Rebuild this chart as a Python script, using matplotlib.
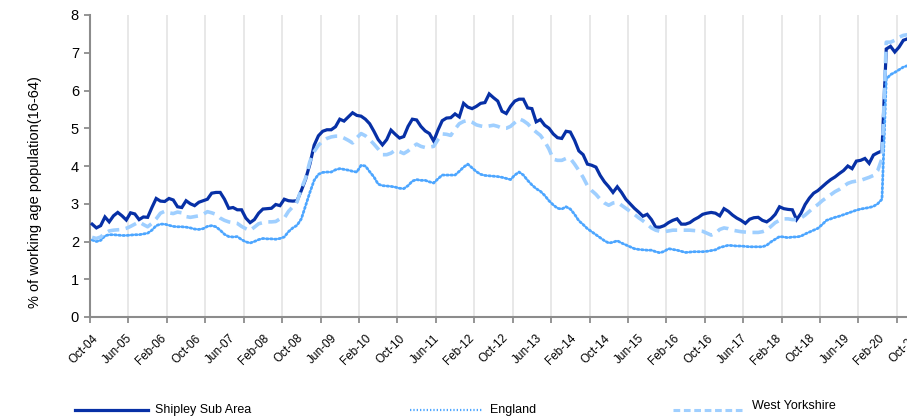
import matplotlib
matplotlib.use("Agg")
import matplotlib.pyplot as plt
from matplotlib.lines import Line2D
import numpy as np

plt.rcParams['font.family'] = ['Liberation Sans', 'DejaVu Sans']

# Monthly values, Oct-04 .. Oct-20 (193 months)
shipley = [
    2.46, 2.36, 2.42, 2.65, 2.52, 2.68, 2.77, 2.68, 2.57, 2.76,
    2.73, 2.58, 2.65, 2.64, 2.90, 3.14, 3.07, 3.06, 3.14, 3.10,
    2.92, 2.90, 3.08, 3.00, 2.95, 3.04, 3.08, 3.12, 3.28, 3.30,
    3.30, 3.12, 2.88, 2.90, 2.84, 2.84, 2.62, 2.50, 2.58, 2.75,
    2.86, 2.87, 2.88, 2.98, 2.95, 3.12, 3.08, 3.07, 3.08, 3.35,
    3.65, 4.05, 4.55, 4.80, 4.92, 4.96, 4.96, 5.04, 5.24, 5.19,
    5.30, 5.41, 5.34, 5.32, 5.24, 5.12, 4.92, 4.70, 4.56, 4.70,
    4.95, 4.84, 4.74, 4.78, 5.05, 5.24, 5.22, 5.05, 4.93, 4.86,
    4.66, 4.95, 5.20, 5.27, 5.28, 5.38, 5.30, 5.66, 5.56, 5.52,
    5.58, 5.66, 5.68, 5.91, 5.81, 5.72, 5.45, 5.39, 5.58, 5.72,
    5.77, 5.77, 5.54, 5.52, 5.17, 5.23, 5.08, 5.00, 4.85, 4.75,
    4.73, 4.92, 4.90, 4.68, 4.40, 4.30, 4.05, 4.02, 3.97, 3.75,
    3.58, 3.45, 3.30, 3.45, 3.30, 3.12, 3.00, 2.88, 2.78, 2.67,
    2.72, 2.58, 2.38, 2.38, 2.42, 2.50, 2.56, 2.60, 2.46, 2.46,
    2.50, 2.58, 2.64, 2.72, 2.75, 2.77, 2.75, 2.68, 2.87, 2.80,
    2.70, 2.62, 2.56, 2.48, 2.59, 2.63, 2.64, 2.56, 2.52, 2.60,
    2.72, 2.92, 2.87, 2.85, 2.84, 2.58, 2.74, 2.98, 3.15, 3.28,
    3.35, 3.45, 3.55, 3.64, 3.71, 3.80, 3.88, 4.00, 3.93, 4.13,
    4.15, 4.20, 4.07, 4.29, 4.35, 4.40, 7.10, 7.17, 7.02, 7.15,
    7.33, 7.37, 7.42,
]

england = [
    2.04, 2.00, 2.03, 2.15, 2.18, 2.18, 2.17, 2.16, 2.16, 2.17,
    2.18, 2.18, 2.20, 2.22, 2.30, 2.42, 2.46, 2.46, 2.43, 2.40,
    2.39, 2.39, 2.38, 2.36, 2.33, 2.32, 2.34, 2.40, 2.42, 2.39,
    2.30, 2.19, 2.13, 2.12, 2.13, 2.05, 1.99, 1.96, 2.00, 2.05,
    2.08, 2.07, 2.07, 2.06, 2.08, 2.12, 2.26, 2.36, 2.43, 2.60,
    2.95, 3.30, 3.62, 3.78, 3.83, 3.84, 3.84, 3.90, 3.93, 3.91,
    3.89, 3.86, 3.84, 4.02, 4.00, 3.85, 3.71, 3.52, 3.48, 3.47,
    3.46, 3.44, 3.41, 3.40, 3.48, 3.60, 3.64, 3.62, 3.62, 3.58,
    3.55, 3.66, 3.76, 3.76, 3.76, 3.76, 3.86, 3.97, 4.05, 3.95,
    3.85, 3.78, 3.75, 3.74, 3.73, 3.72, 3.70, 3.67, 3.64, 3.76,
    3.84, 3.76, 3.62, 3.50, 3.40, 3.33, 3.22, 3.08, 2.97, 2.88,
    2.86, 2.92, 2.86, 2.72, 2.55, 2.45, 2.34, 2.26, 2.18, 2.10,
    2.02, 1.96, 1.98, 2.02, 1.96, 1.91, 1.86, 1.81, 1.79, 1.78,
    1.77, 1.77, 1.73, 1.70, 1.74, 1.81, 1.79, 1.77, 1.74, 1.71,
    1.72, 1.73, 1.73, 1.73, 1.74, 1.76, 1.78, 1.84, 1.87, 1.90,
    1.89, 1.88, 1.88, 1.87, 1.86, 1.86, 1.86, 1.86, 1.90, 1.99,
    2.06, 2.13, 2.12, 2.10, 2.12, 2.12, 2.14, 2.20, 2.25, 2.30,
    2.35, 2.45, 2.56, 2.60, 2.64, 2.67, 2.71, 2.75, 2.79, 2.83,
    2.86, 2.88, 2.90, 2.93, 3.00, 3.12, 6.30, 6.42, 6.48, 6.55,
    6.62, 6.66, 6.68,
]

west_yorkshire = [
    2.11, 2.08, 2.12, 2.22, 2.28, 2.30, 2.31, 2.32, 2.35, 2.40,
    2.46, 2.52, 2.45, 2.39, 2.48, 2.60, 2.75, 2.80, 2.76, 2.74,
    2.78, 2.76, 2.66, 2.64, 2.66, 2.68, 2.72, 2.79, 2.76, 2.72,
    2.62, 2.56, 2.52, 2.50, 2.48, 2.40, 2.34, 2.29, 2.38, 2.47,
    2.50, 2.52, 2.52, 2.53, 2.60, 2.62, 2.80, 2.92, 3.05, 3.40,
    3.68, 4.12, 4.38, 4.55, 4.66, 4.73, 4.77, 4.79, 4.79, 4.74,
    4.68, 4.61, 4.75, 4.86, 4.80, 4.70, 4.58, 4.45, 4.30, 4.30,
    4.34, 4.42, 4.38, 4.33, 4.40, 4.50, 4.58, 4.52, 4.49, 4.50,
    4.52, 4.70, 4.85, 4.84, 4.81, 4.98, 5.12, 5.18, 5.21, 5.16,
    5.09, 5.06, 5.04, 5.06, 5.08, 5.05, 5.00, 5.00, 5.05, 5.15,
    5.25, 5.20, 5.12, 5.00, 4.90, 4.81, 4.65, 4.45, 4.18, 4.15,
    4.15, 4.20, 4.20, 4.05, 3.88, 3.70, 3.48, 3.35, 3.25, 3.12,
    3.02, 2.96, 3.02, 3.04, 2.96, 2.88, 2.80, 2.72, 2.63, 2.55,
    2.46, 2.36, 2.30, 2.27, 2.26, 2.28, 2.30, 2.30, 2.30, 2.30,
    2.30, 2.29, 2.28, 2.27, 2.22, 2.17, 2.22, 2.32, 2.36, 2.34,
    2.30, 2.28, 2.26, 2.25, 2.24, 2.24, 2.24, 2.26, 2.30, 2.40,
    2.50, 2.56, 2.60, 2.60, 2.58, 2.58, 2.62, 2.70, 2.80, 2.90,
    2.98, 3.08, 3.16, 3.24, 3.32, 3.38, 3.46, 3.54, 3.58, 3.60,
    3.62, 3.66, 3.70, 3.75, 3.88, 4.20, 7.28, 7.28, 7.33, 7.41,
    7.46, 7.48, 7.50,
]

tick_labels = ['Oct-04', 'Jun-05', 'Feb-06', 'Oct-06', 'Jun-07', 'Feb-08',
               'Oct-08', 'Jun-09', 'Feb-10', 'Oct-10', 'Jun-11', 'Feb-12',
               'Oct-12', 'Jun-13', 'Feb-14', 'Oct-14', 'Jun-15', 'Feb-16',
               'Oct-16', 'Jun-17', 'Feb-18', 'Oct-18', 'Jun-19', 'Feb-20',
               'Oct-20']
series_names = ['Shipley Sub Area', 'England', 'West Yorkshire']

C_SHIP = '#0730a6'
C_ENG = '#4da6ff'
C_WY = '#9fcfff'

W, H = 907, 417
fig = plt.figure(figsize=(W / 100, H / 100), dpi=100)
n = len(shipley)
ax_left, ax_right = 90, 914
ax_bottom, ax_top = 317, 15
ax = fig.add_axes([ax_left / W, (H - ax_bottom) / H,
                   (ax_right - ax_left) / W, (ax_bottom - ax_top) / H])

x = np.arange(n)
ax.plot(x, shipley, color=C_SHIP, lw=2.3, solid_joinstyle='miter', zorder=3)
ax.plot(x, england, color=C_ENG, lw=2.0, linestyle=(0, (0.6, 0.9)),
        dash_capstyle='round', zorder=4)
ax.plot(x, west_yorkshire, color=C_WY, lw=2.6, linestyle=(0, (3.2, 1.8)),
        zorder=5)

ax.set_xlim(-0.5, n - 0.5)
ax.set_ylim(0, 8)

# gridlines / tick marks every 9 months (between categories)
grid_pos = np.arange(-0.5, n, 9)
for g in grid_pos[1:]:
    ax.axvline(g, color='#e8e8e8', lw=1.4, zorder=1)
ax.set_xticks(grid_pos, minor=True)
ax.set_xticks(np.arange(0, n, 8))
ax.set_xticklabels(tick_labels, rotation=45, ha='right', va='top',
                   rotation_mode='anchor', fontsize=8.5)
ax.tick_params(axis='x', which='major', length=0, pad=11)
ax.tick_params(axis='x', which='minor', length=4, width=1.3, color='#8c8c8c')

ax.set_yticks(range(0, 9))
ax.tick_params(axis='y', length=4, width=1.3, color='#8c8c8c', labelsize=10.5,
               pad=4)
for s in ['top', 'right']:
    ax.spines[s].set_visible(False)
for s in ['left', 'bottom']:
    ax.spines[s].set_color('#8c8c8c')
    ax.spines[s].set_linewidth(1.5)

ax.set_ylabel('% of working age population(16-64)', fontsize=10.5)
ax.yaxis.set_label_coords(-0.058, 0.414)

# legend at bottom
leg_y = 1 - 410 / H
specs = [
    (75, 148, 155, leg_y, dict(color=C_SHIP, lw=2.3)),
    (410, 482, 490, leg_y, dict(color=C_ENG, lw=1.6, linestyle=(0, (0.6, 0.9)))),
    (673, 742, 752, leg_y, dict(color=C_WY, lw=2.2, linestyle=(0, (2.2, 1.2)))),
]
text_y = [1 - 410 / H, 1 - 410 / H, 1 - 406 / H]
for (x0, x1, tx, ly, kw), name, ty in zip(specs, series_names, text_y):
    fig.add_artist(Line2D([x0 / W, x1 / W], [ly, ly], transform=fig.transFigure, **kw))
    fig.text(tx / W, ty, name, fontsize=9, va='center', ha='left')

fig.savefig('out.png', dpi=100)
